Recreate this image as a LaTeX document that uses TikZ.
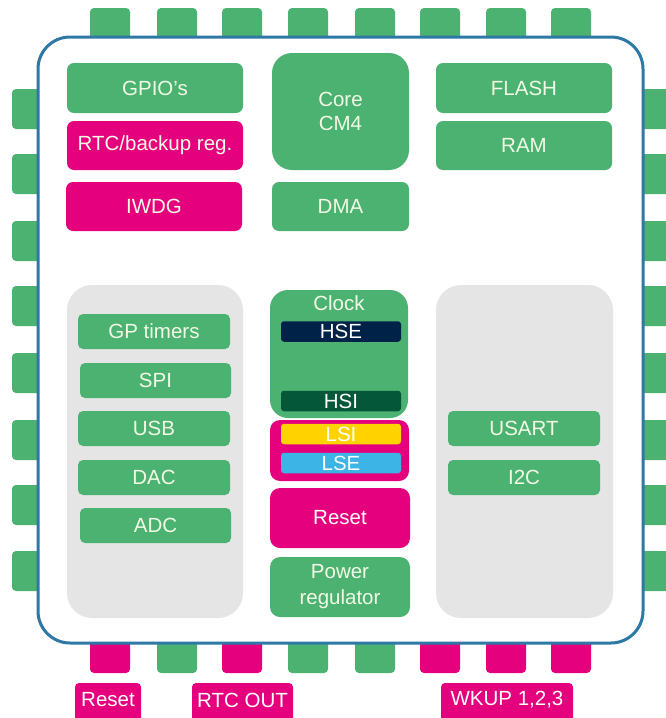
\documentclass[tikz,border=0pt]{standalone}
\usepackage{fontspec}
\setmainfont{Liberation Sans}
\definecolor{stgreen}{RGB}{75,178,114}
\definecolor{stpink}{RGB}{229,0,126}
\definecolor{stgray}{RGB}{229,229,229}
\definecolor{stblue}{RGB}{46,120,166}
\definecolor{stnavy}{RGB}{1,34,72}
\definecolor{stdkgreen}{RGB}{5,87,58}
\definecolor{styellow}{RGB}{255,210,0}
\definecolor{stcyan}{RGB}{60,180,230}
\definecolor{sttxt}{RGB}{242,250,228}
\tikzset{
  blk/.style={rounded corners=7pt, inner sep=0pt, text=sttxt, align=center,
    font=\fontsize{20.5}{24}\selectfont},
  gbk/.style={blk, fill=stgreen},
  pbk/.style={blk, fill=stpink},
  osc/.style={blk, rounded corners=3pt, minimum width=120pt, minimum height=20.5pt, text=white},
  pin/.style={rounded corners=4pt, inner sep=0pt},
  lbl/.style={pbk, rounded corners=4pt, text=white},
  lbltxt/.style={text=white, font=\fontsize{20.5}{24}\selectfont, inner sep=0pt},
  panel/.style={rounded corners=25pt, fill=stgray, inner sep=0pt}
}
\begin{document}
\begin{tikzpicture}[x=1pt,y=-1pt]
\clip (0,0) rectangle (666,718);
\fill[white] (0,0) rectangle (666,718);
% top pins
\foreach \c [count=\i] in {110,177,242,308,375,440,506,571}{
  \node[pin, fill=stgreen, minimum width=40pt, minimum height=44pt] (tp\i) at (\c,30) {};
}
% left and right pins
\foreach \c [count=\i] in {109,174,241,306,373,440,505,571}{
  \node[pin, fill=stgreen, minimum width=44pt, minimum height=40pt] (lp\i) at (34,\c) {};
  \node[pin, fill=stgreen, minimum width=44pt, minimum height=40pt] (rp\i) at (658,\c) {};
}
% bottom pins
\foreach \c/\col [count=\i] in {110/stpink,177/stgreen,242/stpink,308/stgreen,375/stgreen,440/stpink,506/stpink,571/stpink}{
  \node[pin, fill=\col, minimum width=40pt, minimum height=44pt] (bp\i) at (\c,651) {};
}
% chip body
\node[draw=stblue, line width=3pt, fill=white, rounded corners=32pt, inner sep=0pt,
  minimum width=605pt, minimum height=606pt] (chip) at (340.5,340) {};
% top blocks
\node[gbk, minimum width=176pt, minimum height=50pt] (gpio) at (155,88) {GPIO’s};
\node[pbk, minimum width=176pt, minimum height=49pt] (rtc) at (155,145.5) {RTC/backup reg.};
\node[pbk, minimum width=176pt, minimum height=49pt] (iwdg) at (154,206.5) {IWDG};
\node[gbk, rounded corners=20pt, minimum width=137pt, minimum height=117pt] (core) at (340.5,111.5) {Core\\CM4};
\node[gbk, minimum width=137pt, minimum height=49pt] (dma) at (340.5,206.5) {DMA};
\node[gbk, minimum width=176pt, minimum height=50pt] (flash) at (524,88) {FLASH};
\node[gbk, minimum width=176pt, minimum height=49pt] (ram) at (524,145.5) {RAM};
% panels
\node[panel, minimum width=176pt, minimum height=333pt] (lpanel) at (155,451.5) {};
\node[panel, minimum width=177pt, minimum height=333pt] (rpanel) at (524.5,451.5) {};
\node[gbk, rounded corners=5pt, minimum width=152pt, minimum height=35pt] (gpt) at (154,331.5) {GP timers};
\node[gbk, rounded corners=5pt, minimum width=151pt, minimum height=35pt] (spi) at (155.5,380.5) {SPI};
\node[gbk, rounded corners=5pt, minimum width=152pt, minimum height=35pt] (usb) at (154,428.5) {USB};
\node[gbk, rounded corners=5pt, minimum width=152pt, minimum height=35pt] (dac) at (154,477.5) {DAC};
\node[gbk, rounded corners=5pt, minimum width=151pt, minimum height=35pt] (adc) at (155.5,525.5) {ADC};
\node[gbk, rounded corners=5pt, minimum width=152pt, minimum height=35pt] (usart) at (524,428.5) {USART};
\node[gbk, rounded corners=5pt, minimum width=152pt, minimum height=35pt] (i2c) at (524,477.5) {I2C};
% clock
\node[gbk, rounded corners=18pt, minimum width=138pt, minimum height=128pt] (clock) at (339,354) {};
\node[text=sttxt, font=\fontsize{20.5}{24}\selectfont, inner sep=0pt] (clocklbl) at (339,303) {Clock};
\node[osc, fill=stnavy] (hse) at (341,331.5) {HSE};
\node[osc, fill=stdkgreen] (hsi) at (341,401) {HSI};
\node[pbk, rounded corners=10pt, minimum width=139pt, minimum height=61pt] (lsbox) at (339.5,450.5) {};
\node[osc, fill=styellow] (lsi) at (341,434) {LSI};
\node[osc, fill=stcyan] (lse) at (341,463) {LSE};
\node[pbk, rounded corners=10pt, minimum width=140pt, minimum height=60pt, text=white] (reset) at (340,518) {Reset};
\node[gbk, rounded corners=10pt, minimum width=140pt, minimum height=60pt] (power) at (340,587) {Power\\[2pt]regulator};
% bottom labels
\node[lbl, minimum width=66pt, minimum height=50pt] (lreset) at (108,708) {};
\node[lbltxt] (treset) at (108,700) {Reset};
\node[lbl, minimum width=101pt, minimum height=50pt] (lrtc) at (242.5,708) {};
\node[lbltxt] (trtc) at (242.5,700) {RTC OUT};
\node[lbl, minimum width=132pt, minimum height=50pt] (lwkup) at (507,708) {};
\node[lbltxt] (twkup) at (507,700) {WKUP 1,2,3};
\end{tikzpicture}
\end{document}
